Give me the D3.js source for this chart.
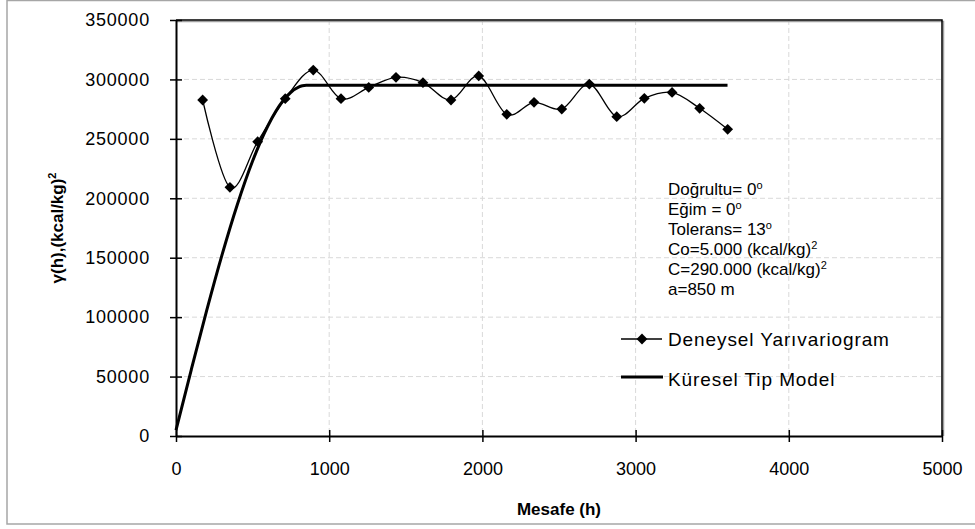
<!DOCTYPE html>
<html>
<head>
<meta charset="utf-8">
<script src="https://cdn.jsdelivr.net/npm/d3@7"></script>
<style>
    body { margin: 0; background: #fff; }
    svg text { font-family: "Liberation Sans", Arial, sans-serif; fill: #000; }
</style>
</head>
<body>
<div id="chart"></div>
<script>
// experimental semivariogram (lag distance, value)
const lagDist = [174, 352, 533, 713, 896, 1077, 1258, 1436, 1612, 1795,
    1976, 2159, 2337, 2518, 2698, 2877, 3057, 3238, 3418, 3601];
const gammaExp = [282700, 209200, 247600, 283800, 307900, 283800, 293300, 301800, 297300, 282700,
    302900, 270600, 280700, 275100, 296100, 268700, 284100, 289100, 275700, 258000];

// spherical model
const modelDist = [0, 100, 200, 300, 400, 500, 600, 700, 750, 800, 825, 850, 3600];
const gammaModel = [5000, 55940, 105464, 152155, 194595, 231369, 261060, 282250, 289215, 293524, 294625, 295000, 295000];

const xTicks = [0, 1000, 2000, 3000, 4000, 5000];
const yTicks = [0, 50000, 100000, 150000, 200000, 250000, 300000, 350000];

const infoLines = [
    ['Doğrultu= 0', 'o'],
    ['Eğim = 0', 'o'],
    ['Tolerans= 13', 'o'],
    ['Co=5.000 (kcal/kg)', '2'],
    ['C=290.000 (kcal/kg)', '2'],
    ['a=850 m', '']
];
const legendNames = ['Deneysel Yarıvariogram', 'Küresel Tip Model'];

const width = 975, height = 529;
const plot = { left: 176, right: 942, top: 20, bottom: 436 };

const svg = d3.select('#chart').append('svg')
    .attr('width', width)
    .attr('height', height);

// outer chart frame
svg.append('rect')
    .attr('x', 7).attr('y', 0.5)
    .attr('width', 990).attr('height', 523.5)
    .attr('fill', 'none')
    .attr('stroke', '#a6a6a6')
    .attr('stroke-width', 1.5);

const x = d3.scaleLinear().domain([0, 5000]).range([plot.left, plot.right]);
const y = d3.scaleLinear().domain([0, 350000]).range([plot.bottom, plot.top]);

// grid
svg.append('g').selectAll('line')
    .data(yTicks.filter(d => d > 0 && d < 350000))
    .enter().append('line')
    .attr('x1', plot.left).attr('x2', plot.right)
    .attr('y1', d => y(d)).attr('y2', d => y(d))
    .attr('stroke', '#d9d9d9')
    .attr('stroke-dasharray', '5,3');

svg.append('g').selectAll('line')
    .data(xTicks.filter(d => d > 0 && d < 5000))
    .enter().append('line')
    .attr('x1', d => x(d)).attr('x2', d => x(d))
    .attr('y1', plot.top).attr('y2', plot.bottom)
    .attr('stroke', '#d9d9d9')
    .attr('stroke-dasharray', '5,3');

// plot box (top/right) with a light shadow
svg.append('path')
    .attr('d', `M${plot.left},${plot.top + 1.5}H${plot.right + 1.5}V${plot.bottom}`)
    .attr('fill', 'none')
    .attr('stroke', '#a0a0a0')
    .attr('stroke-width', 1.5);
svg.append('path')
    .attr('d', `M${plot.left},${plot.top}H${plot.right}V${plot.bottom}`)
    .attr('fill', 'none')
    .attr('stroke', '#000')
    .attr('stroke-width', 1.5);

// axes
const xAxis = svg.append('g')
    .attr('transform', `translate(0,${plot.bottom})`)
    .call(d3.axisBottom(x).tickValues(xTicks).tickFormat(d3.format('d'))
        .tickSizeInner(6).tickSizeOuter(0).tickPadding(20));
const yAxis = svg.append('g')
    .attr('transform', `translate(${plot.left},0)`)
    .call(d3.axisLeft(y).tickValues(yTicks).tickFormat(d3.format('d'))
        .tickSizeInner(6).tickSizeOuter(0).tickPadding(20));

[xAxis, yAxis].forEach(a => {
    a.select('.domain').attr('stroke', '#000').attr('stroke-width', 2);
    a.selectAll('.tick line').attr('stroke', '#000').attr('stroke-width', 1.5);
    a.selectAll('.tick text').style('font-size', '18px').attr('fill', '#000');
});
yAxis.selectAll('.tick text').style('letter-spacing', '0.8px');
// ticks cross the axis
xAxis.selectAll('.tick line').attr('y1', -6);
yAxis.selectAll('.tick line').attr('x1', 6);

// axis titles
svg.append('text')
    .attr('x', (plot.left + plot.right) / 2)
    .attr('y', 515)
    .attr('text-anchor', 'middle')
    .style('font-size', '17px')
    .style('font-weight', 'bold')
    .text('Mesafe (h)');

const yTitle = svg.append('text')
    .attr('transform', 'translate(63,228) rotate(-90)')
    .attr('text-anchor', 'middle')
    .style('font-size', '17px')
    .style('font-weight', 'bold');
yTitle.append('tspan').text('γ(h),(kcal/kg)');
yTitle.append('tspan').attr('dy', -7).style('font-size', '11px').text('2');

// model curve
const modelLine = d3.line()
    .x((d, i) => x(modelDist[i]))
    .y(d => y(d))
    .curve(d3.curveMonotoneX);

svg.append('path')
    .datum(gammaModel)
    .attr('d', modelLine)
    .attr('fill', 'none')
    .attr('stroke', '#000')
    .attr('stroke-width', 3);

// experimental curve
const expLine = d3.line()
    .x((d, i) => x(lagDist[i]))
    .y(d => y(d))
    .curve(d3.curveCatmullRom.alpha(0));

svg.append('path')
    .datum(gammaExp)
    .attr('d', expLine)
    .attr('fill', 'none')
    .attr('stroke', '#000')
    .attr('stroke-width', 1.3);

const diamond = d3.symbol().type(d3.symbolSquare).size(58);

svg.append('g').selectAll('path')
    .data(gammaExp)
    .enter().append('path')
    .attr('d', diamond)
    .attr('transform', (d, i) => `translate(${x(lagDist[i])},${y(d)}) rotate(45)`)
    .attr('fill', '#000');

// parameters text
const info = svg.append('g');
infoLines.forEach((line, i) => {
    const t = info.append('text')
        .attr('x', 668)
        .attr('y', 195 + i * 20)
        .style('font-size', '17px');
    t.append('tspan').text(line[0]);
    if (line[1]) {
        t.append('tspan').attr('dy', -6).style('font-size', '11px').text(line[1]);
    }
});

// legend
const legend = svg.append('g');
legend.append('line')
    .attr('x1', 621).attr('x2', 662)
    .attr('y1', 339).attr('y2', 339)
    .attr('stroke', '#000').attr('stroke-width', 1.3);
legend.append('path')
    .attr('d', diamond)
    .attr('transform', 'translate(642,339) rotate(45)')
    .attr('fill', '#000');
legend.append('line')
    .attr('x1', 621).attr('x2', 663)
    .attr('y1', 377).attr('y2', 377)
    .attr('stroke', '#000').attr('stroke-width', 3);

legend.selectAll('text')
    .data(legendNames)
    .enter().append('text')
    .attr('x', 668)
    .attr('y', (d, i) => 346 + i * 40)
    .style('font-size', '19px')
    .style('letter-spacing', '0.9px')
    .text(d => d);
</script>
</body>
</html>
